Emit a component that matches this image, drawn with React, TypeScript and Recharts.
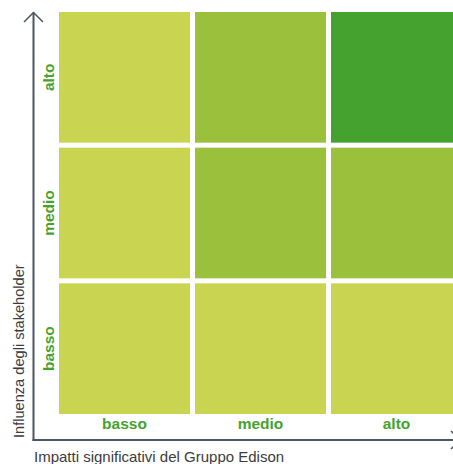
import React from 'react';
import { BarChart, Bar, XAxis, YAxis, Cell, Customized } from 'recharts';

// x categories: impatti significativi del Gruppo Edison
const impactCategories = ['basso', 'medio', 'alto'];
// y categories: influenza degli stakeholder (bottom to top)
const influenceCategories = ['basso', 'medio', 'alto'];
// colour level of each cell, one array per influence row, left to right
const levelsInfluenceBasso = [0, 0, 0];
const levelsInfluenceMedio = [0, 1, 1];
const levelsInfluenceAlto = [0, 1, 2];
const levelColours = ['#c9d550', '#9bc13c', '#46a22e'];

const rowLevels: Record<string, number[]> = {
  basso: levelsInfluenceBasso,
  medio: levelsInfluenceMedio,
  alto: levelsInfluenceAlto,
};

const data = impactCategories.map((impact) => ({
  impact,
  basso: 1,
  medio: 1,
  alto: 1,
}));

const yTicks = influenceCategories.map((_, i) => i + 0.5);

const GREEN = '#46a22e';
const AXIS = '#4b5660';
const FONT = '"Liberation Sans", Arial, sans-serif';

function CellShape(props: any) {
  const { x, y, width, height, fill } = props;
  return <rect x={x} y={y + 2.5} width={width} height={Math.max(0, height - 5)} fill={fill} />;
}

function XTick({ x, y, payload }: any) {
  return (
    <text x={x} y={y + 4.5} textAnchor="middle" fill={GREEN} fontSize={15.5} fontWeight="bold" fontFamily={FONT}>
      {payload.value}
    </text>
  );
}

function YTick({ x, y, payload }: any) {
  const label = influenceCategories[Math.floor(payload.value)];
  return (
    <text
      transform={`translate(${x + 5.5},${y}) rotate(-90)`}
      textAnchor="middle"
      fill={GREEN}
      fontSize={15.5}
      fontWeight="bold"
      fontFamily={FONT}
    >
      {label}
    </text>
  );
}

function AxesDecor() {
  return (
    <g>
      <line x1={33.5} y1={12.5} x2={33.5} y2={441} stroke={AXIS} strokeWidth={2} />
      <line x1={32.5} y1={440} x2={462} y2={440} stroke={AXIS} strokeWidth={2} />
      <polyline points="24,22 33.5,12.5 43,22" fill="none" stroke={AXIS} strokeWidth={1.5} />
      <polyline points="451,431 460.5,440 451,449" fill="none" stroke={AXIS} strokeWidth={1.5} />
      <text x={34} y={462} fill="#3c3c3c" fontSize={15} fontFamily={FONT}>
        Impatti significativi del Gruppo Edison
      </text>
      <text transform="translate(24,438) rotate(-90)" fill="#3c3c3c" fontSize={14.6} fontFamily={FONT}>
        Influenza degli stakeholder
      </text>
    </g>
  );
}

export default function App() {
  return (
    <div style={{ position: 'absolute', left: 0, top: 0, width: 453, height: 464, overflow: 'hidden', background: '#fff' }}>
      <BarChart
        width={470}
        height={464}
        data={data}
        margin={{ top: 9.5, right: 5.5, bottom: 24, left: 0 }}
        barCategoryGap={2.5}
      >
        <XAxis
          dataKey="impact"
          axisLine={false}
          tickLine={false}
          height={23.5}
          tick={<XTick />}
          interval={0}
        />
        <YAxis
          type="number"
          domain={[0, 3]}
          ticks={yTicks}
          axisLine={false}
          tickLine={false}
          width={56.5}
          tick={<YTick />}
        />
        {influenceCategories.map((row) => (
          <Bar key={row} dataKey={row} stackId="grid" isAnimationActive={false} shape={<CellShape />}>
            {impactCategories.map((c, i) => (
              <Cell key={c} fill={levelColours[rowLevels[row][i]]} />
            ))}
          </Bar>
        ))}
        <Customized component={AxesDecor} />
      </BarChart>
    </div>
  );
}
